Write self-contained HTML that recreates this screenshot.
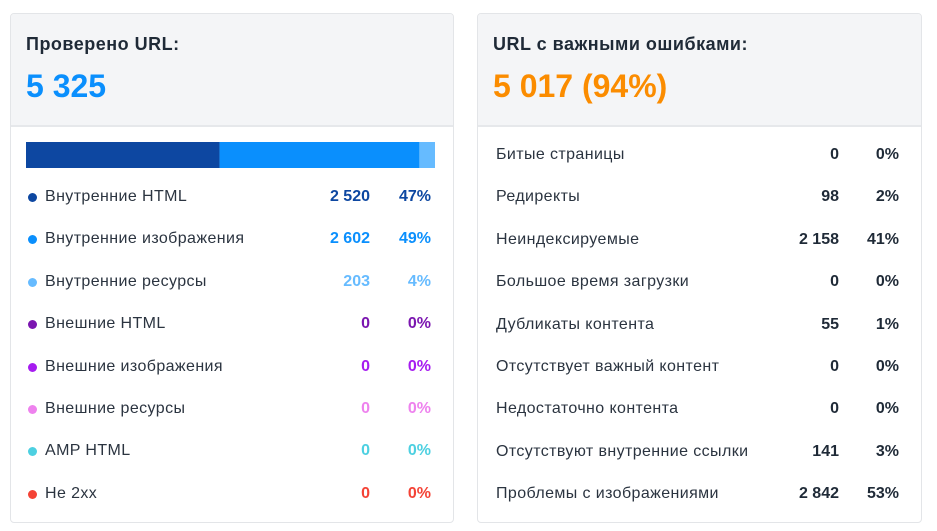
<!DOCTYPE html>
<html><head><meta charset="utf-8"><style>
body{margin:0;width:937px;height:531px;background:#fff;font-family:"Liberation Sans","DejaVu Sans",sans-serif;position:relative;overflow:hidden}
.card{position:absolute;top:13px;height:508px;border:1px solid #e3e5e8;border-radius:4px;background:#fff;overflow:hidden}
.hdr{height:111px;background:#f4f5f7;border-bottom:2px solid #e6e8eb;position:relative}
.t{position:absolute;left:15px;top:20px;font-size:18px;letter-spacing:0.5px;font-weight:bold;color:#1f2a37}
.big{position:absolute;left:15px;top:54px;font-size:32px;font-weight:bold}
.row{position:absolute;font-size:16px;letter-spacing:0.4px;color:#2b3440;height:20px;line-height:20px}
.dot{position:absolute;width:9px;height:9px;border-radius:50%;top:6px}
.v{position:absolute;text-align:right;width:80px;font-weight:bold;letter-spacing:0}
</style></head><body>
<div class="card" id="l" style="left:10px;width:442px">
<div class="hdr"><div class="t">Проверено URL:</div><div class="big" style="color:#0a8ffd">5 325</div></div>
<svg id="bar" style="position:absolute;left:0;top:0" width="442" height="508"></svg>
</div>
<div class="card" id="r" style="left:477px;width:443px">
<div class="hdr"><div class="t">URL с важными ошибками:</div><div class="big" style="color:#fb8c00">5 017 (94%)</div></div>
</div>
<script>
const leftLabels=["Внутренние HTML","Внутренние изображения","Внутренние ресурсы","Внешние HTML","Внешние изображения","Внешние ресурсы","AMP HTML","Не 2xx"];
const leftValues=[2520,2602,203,0,0,0,0,0];
const leftPcts=["47%","49%","4%","0%","0%","0%","0%","0%"];
const leftColors=["#0d47a1","#0a8ffd","#66bbff","#7b16b0","#a61cf0","#ee82ee","#4dd0e1","#f44336"];
const rightLabels=["Битые страницы","Редиректы","Неиндексируемые","Большое время загрузки","Дубликаты контента","Отсутствует важный контент","Недостаточно контента","Отсутствуют внутренние ссылки","Проблемы с изображениями"];
const rightValues=[0,98,2158,0,55,0,0,141,2842];
const rightPcts=["0%","2%","41%","0%","1%","0%","0%","3%","53%"];
const fmt=n=>String(n).replace(/\B(?=(\d{3})+(?!\d))/g,' ');
const L=document.getElementById('l'),R=document.getElementById('r'),svg=document.getElementById('bar');
const total=leftValues.reduce((a,b)=>a+b,0);const bx=15,bw=409;let x=bx;
leftValues.forEach((v,i)=>{if(!v)return;const w=v/total*bw;const r=document.createElementNS('http://www.w3.org/2000/svg','rect');


r.setAttribute('x',x);r.setAttribute('y',128);r.setAttribute('width',w);r.setAttribute('height',26);r.setAttribute('fill',leftColors[i]);svg.appendChild(r);x+=w;});
leftLabels.forEach((lab,i)=>{const d=document.createElement('div');d.className='row';


d.style.left='0';d.style.width='442px';d.style.top=(173+i*42.4)+'px';
const c=leftColors[i];
d.innerHTML='<span class="dot" style="left:17px;background:'+leftColors[i]+'"></span><span style="position:absolute;left:34px">'+lab+'</span><span class="v" style="left:279px;color:'+c+'">'+fmt(leftValues[i])+'</span><span class="v" style="left:340px;color:'+c+'">'+leftPcts[i]+'</span>';
L.appendChild(d);});
rightLabels.forEach((lab,i)=>{const d=document.createElement('div');d.className='row';


d.style.left='0';d.style.width='443px';d.style.top=(131+i*42.4)+'px';
d.innerHTML='<span style="position:absolute;left:18px">'+lab+'</span><span class="v" style="left:281px;color:#1f2a37">'+fmt(rightValues[i])+'</span><span class="v" style="left:341px;color:#1f2a37">'+rightPcts[i]+'</span>';
R.appendChild(d);});
</script>
</body></html>
